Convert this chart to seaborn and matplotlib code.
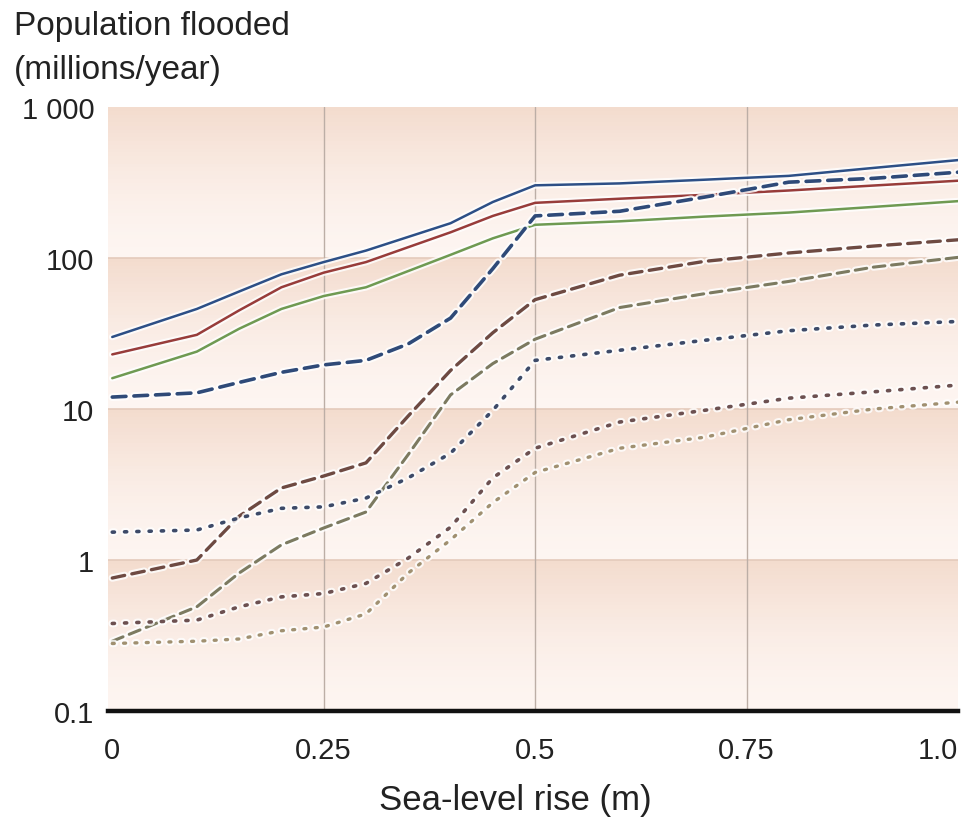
import numpy as np
import pandas as pd
import seaborn as sns
import matplotlib.pyplot as plt
import matplotlib.patheffects as pe

# sea-level rise (m) and population flooded (millions/year)
rise = [0, 0.1, 0.15, 0.2, 0.25, 0.3, 0.35, 0.4, 0.45, 0.5, 0.6, 0.7, 0.8, 0.9, 1.0]

blue_solid = [30, 46, 60, 78, 94, 112, 138, 170, 235, 303, 312, 330, 350, 395, 445]
red_solid = [23, 31, 45, 64, 80, 94, 118, 148, 190, 232, 247, 262, 280, 302, 325]
green_solid = [16, 24, 34, 46, 56, 64, 82, 105, 135, 166, 175, 188, 200, 218, 238]

blue_dash = [12, 12.8, 15, 17.5, 19.6, 21, 27, 40, 85, 190, 204, 253, 318, 337, 370]
red_dash = [0.76, 1.0, 1.95, 3.0, 3.6, 4.4, 9, 18, 32, 53, 77, 95, 108, 120, 132]
green_dash = [0.29, 0.49, 0.82, 1.26, 1.63, 2.08, 5.0, 12.4, 20, 29, 47, 58, 70, 87, 101]

blue_dot = [1.53, 1.58, 1.9, 2.2, 2.25, 2.57, 3.5, 5.1, 9.8, 21, 24.5, 28.5, 33, 36, 38]
red_dot = [0.38, 0.40, 0.49, 0.57, 0.60, 0.70, 1.03, 1.65, 3.5, 5.5, 8.2, 9.8, 11.8, 13, 14.4]
green_dot = [0.28, 0.29, 0.30, 0.34, 0.36, 0.44, 0.82, 1.36, 2.4, 3.8, 5.5, 6.5, 8.5, 10, 11.1]

yticks = [0.1, 1, 10, 100, 1000]
ytick_labels = ['0.1', '1', '10', '100', '1 000']
xticks = [0, 0.25, 0.5, 0.75, 1.0]
xtick_labels = ['0', '0.25', '0.5', '0.75', '1.0']

dash = (0, (3.8, 2.2))
dot = (0, (0.6, 2.8))
series = [
    (blue_solid, '#2d4f86', '-', 1.8),
    (red_solid, '#983c3a', '-', 1.8),
    (green_solid, '#6f9a52', '-', 1.8),
    (blue_dash, '#2f4a78', dash, 2.6),
    (red_dash, '#6e4a42', dash, 2.4),
    (green_dash, '#7c7a60', dash, 2.2),
    (blue_dot, '#3d4a68', dot, 2.6),
    (red_dot, '#6c5050', dot, 2.6),
    (green_dot, '#a09070', dot, 2.4),
]

sns.set_style('white')
plt.rcParams['font.family'] = ['Liberation Sans', 'DejaVu Sans']

fig = plt.figure(figsize=(9.62, 8.29), dpi=100)
ax = fig.add_axes([0.1123, 0.1411, 0.8835, 0.7286])
ax.set_yscale('log')
ax.set_ylim(0.1, 1000)
ax.set_xlim(-0.005, 1.0)

# peach band per decade, darker at the top fading to pale at the bottom
peach = np.array([243, 219, 205]) / 255
pale = np.array([253, 245, 241]) / 255
n = 40
for d in range(-1, 3):
    for i in range(n):
        t = (i + 0.5) / n
        c = pale + (peach - pale) * t ** 1.6
        ax.axhspan(10 ** (d + i / n), 10 ** (d + (i + 1) / n), color=c, lw=0, zorder=0)
    if d > -1:
        ax.axhline(10 ** d, color='#e4cabb', lw=1.2, zorder=1)

for xv in [0.25, 0.5, 0.75]:
    ax.axvline(xv, color='#bcaea6', lw=1, zorder=1)

for vals, col, ls, lw in series:
    sns.lineplot(x=rise, y=vals, ax=ax, color=col, linestyle=ls, lw=lw,
                 solid_capstyle='round', dash_capstyle='round', zorder=3,
                 path_effects=[pe.Stroke(linewidth=lw + 3, foreground='white', alpha=0.8), pe.Normal()])

for s in ['top', 'right', 'left']:
    ax.spines[s].set_visible(False)
ax.spines['bottom'].set_linewidth(3.2)
ax.spines['bottom'].set_color('#111111')
ax.spines['bottom'].set_zorder(5)

ax.set_yticks(yticks)
ax.set_yticklabels(ytick_labels)
ax.minorticks_off()
ax.set_xticks(xticks)
ax.set_xticklabels(xtick_labels)
ax.get_xticklabels()[-1].set_horizontalalignment('right')
ax.tick_params(axis='y', length=0, pad=10, labelsize=21, labelcolor='#222222')
ax.tick_params(axis='x', length=0, pad=18, labelsize=21, labelcolor='#222222')
ax.set_xlabel('')
ax.set_ylabel('')

fig.text(14 / 962, 1 - 27 / 829, 'Population flooded', fontsize=24, va='center', ha='left', color='#222222')
fig.text(14 / 962, 1 - 71 / 829, '(millions/year)', fontsize=24, va='center', ha='left', color='#222222')
fig.text(515 / 962, 1 - 801 / 829, 'Sea-level rise (m)', fontsize=25, va='center', ha='center', color='#222222')

plt.savefig('out.png', dpi=100)
